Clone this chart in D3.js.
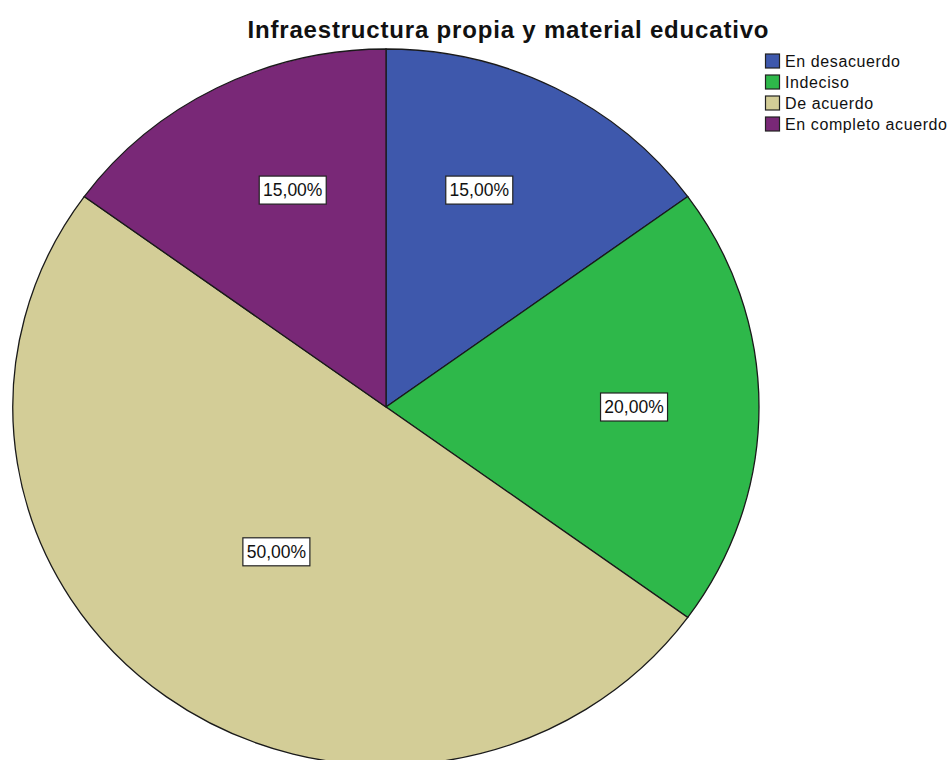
<!DOCTYPE html>
<html>
<head>
<meta charset="utf-8">
<script src="https://cdn.jsdelivr.net/npm/d3@7"></script>
<style>
  html, body { margin: 0; padding: 0; background: #ffffff; }
  svg { display: block; }
</style>
</head>
<body>
<svg id="chart" width="952" height="760"></svg>
<script>
// Survey answers and their share of responses (%)
const categories = ["En desacuerdo", "Indeciso", "De acuerdo", "En completo acuerdo"];
const percentages = [15, 20, 50, 15];
const sliceColors = ["#3e58ac", "#2eb84a", "#d3cd97", "#792877"];
const chartTitle = "Infraestructura propia y material educativo";

const svg = d3.select("#chart");
const font = "'Liberation Sans', Arial, sans-serif";

// Pie geometry: slightly wider than tall
const cx = 386, cy = 407;
const ry = 358, rx = 373;

const data = categories.map((c, i) => ({ category: c, value: percentages[i] }));

const pie = d3.pie()
  .sort(null)
  .value(d => d.value)
  .startAngle(0)
  .endAngle(2 * Math.PI);

const arcs = pie(data);
const arc = d3.arc().innerRadius(0).outerRadius(ry);
const color = d3.scaleOrdinal().domain(categories).range(sliceColors);

const pieG = svg.append("g")
  .attr("transform", `translate(${cx},${cy}) scale(${rx / ry},1)`);

pieG.selectAll("path")
  .data(arcs)
  .join("path")
  .attr("d", arc)
  .attr("fill", d => color(d.data.category))
  .attr("stroke", "#1a1a1a")
  .attr("stroke-width", 1.3)
  .attr("vector-effect", "non-scaling-stroke");

// Value labels in white boxes, placed along each slice's middle angle
const fmt = v => d3.format(".2f")(v).replace(".", ",") + "%";
const labelFrac = d => (d.data.value >= 50 ? 0.5 : (d.data.value < 20 ? 0.68 : 0.665));

const labels = svg.append("g").selectAll("g")
  .data(arcs)
  .join("g")
  .attr("transform", d => {
    const a = (d.startAngle + d.endAngle) / 2;
    const f = labelFrac(d);
    let x = cx + Math.sin(a) * rx * f;
    const y = cy - Math.cos(a) * ry * f;
    // narrow top slices keep their labels a little closer to the vertical
    if (d.data.value < 20) x = cx + (x - cx) * 0.81;
    return `translate(${x},${y})`;
  });

labels.append("rect")
  .attr("x", -33.5)
  .attr("y", -14)
  .attr("width", 67)
  .attr("height", 28)
  .attr("fill", "#ffffff")
  .attr("stroke", "#222")
  .attr("stroke-width", 1.2);

labels.append("text")
  .attr("text-anchor", "middle")
  .attr("dy", "0.36em")
  .attr("font-family", font)
  .attr("font-size", 17.5)
  .attr("fill", "#111")
  .text(d => fmt(d.data.value));

// Title
svg.append("text")
  .attr("x", 508)
  .attr("y", 38)
  .attr("text-anchor", "middle")
  .attr("font-family", font)
  .attr("font-size", 24)
  .attr("font-weight", "bold")
  .attr("fill", "#111")
  .attr("textLength", 521)
  .attr("lengthAdjust", "spacing")
  .text(chartTitle);

// Legend
const legend = svg.append("g").attr("transform", "translate(765,61)");
const rows = legend.selectAll("g")
  .data(categories)
  .join("g")
  .attr("transform", (d, i) => `translate(0,${i * 21})`);

rows.append("rect")
  .attr("x", 0.5)
  .attr("y", -7)
  .attr("width", 14)
  .attr("height", 14)
  .attr("fill", d => color(d))
  .attr("stroke", "#222")
  .attr("stroke-width", 1.2);

rows.append("text")
  .attr("x", 20)
  .attr("y", 0)
  .attr("dy", "0.36em")
  .attr("font-family", font)
  .attr("font-size", 16)
  .attr("letter-spacing", 0.6)
  .attr("fill", "#111")
  .text(d => d);
</script>
</body>
</html>
